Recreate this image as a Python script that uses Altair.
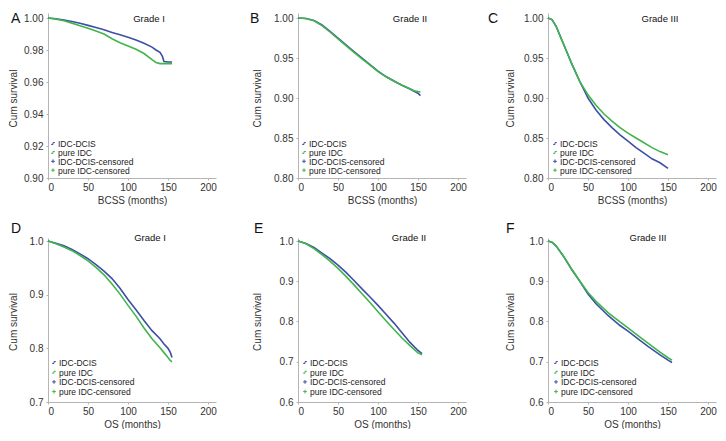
import altair as alt
import pandas as pd

FONT = "Liberation Sans"
BLUE = "#3d4fa6"
GREEN = "#3fb54b"
GROUPS = ["IDC-DCIS", "pure IDC"]
LEGEND_LABELS = ["IDC-DCIS", "pure IDC", "IDC-DCIS-censored", "pure IDC-censored"]
X_TICKS = [0, 50, 100, 150, 200]

# ---- Panel A: BCSS, Grade I ----
months_A = [0, 10, 20, 30, 40, 50, 60, 70, 80, 90, 100, 110, 120, 130, 135, 140, 143, 145, 150, 155]
blue_A = [1.0000, 0.9995, 0.9988, 0.9978, 0.9967, 0.9954, 0.9940, 0.9926, 0.9910, 0.9895,
          0.9880, 0.9862, 0.9842, 0.9818, 0.9800, 0.9785, 0.9760, 0.9728, 0.9725, 0.9725]
green_A = [1.0000, 0.9993, 0.9983, 0.9968, 0.9952, 0.9936, 0.9918, 0.9900, 0.9870, 0.9845,
           0.9825, 0.9805, 0.9778, 0.9740, 0.9722, 0.9715, 0.9715, 0.9715, 0.9715, 0.9715]

# ---- Panel B: BCSS, Grade II ----
months_B = [0, 10, 20, 30, 40, 50, 60, 70, 80, 90, 100, 110, 120, 130, 140, 145, 150, 153]
blue_B = [1.0000, 0.9994, 0.9968, 0.9912, 0.9833, 0.9750, 0.9665, 0.9580, 0.9498, 0.9418,
          0.9335, 0.9268, 0.9213, 0.9160, 0.9112, 0.9085, 0.9060, 0.9030]
green_B = [1.0000, 0.9993, 0.9965, 0.9905, 0.9825, 0.9740, 0.9655, 0.9570, 0.9490, 0.9410,
           0.9330, 0.9265, 0.9210, 0.9160, 0.9115, 0.9090, 0.9080, 0.9075]

# ---- Panel C: BCSS, Grade III ----
months_C = [0, 5, 10, 15, 20, 25, 30, 35, 40, 45, 50, 60, 70, 80, 90, 100, 110, 120, 130, 140, 150]
blue_C = [1.000, 0.998, 0.990, 0.978, 0.966, 0.954, 0.942, 0.931, 0.920, 0.910, 0.900,
          0.885, 0.873, 0.863, 0.854, 0.846, 0.838, 0.831, 0.824, 0.819, 0.812]
green_C = [1.000, 0.998, 0.990, 0.978, 0.966, 0.954, 0.942, 0.931, 0.920, 0.912, 0.904,
           0.891, 0.880, 0.871, 0.863, 0.856, 0.850, 0.844, 0.838, 0.833, 0.829]

# ---- Panel D: OS, Grade I ----
months_D = [0, 10, 20, 30, 40, 50, 60, 70, 80, 90, 100, 110, 120, 130, 140, 145, 150, 153, 155]
blue_D = [1.000, 0.996, 0.991, 0.984, 0.976, 0.967, 0.956, 0.944, 0.930, 0.912,
          0.891, 0.872, 0.852, 0.833, 0.818, 0.808, 0.800, 0.792, 0.783]
green_D = [1.000, 0.995, 0.989, 0.982, 0.973, 0.963, 0.951, 0.937, 0.920, 0.901,
           0.880, 0.860, 0.838, 0.818, 0.801, 0.792, 0.783, 0.777, 0.775]

# ---- Panel E: OS, Grade II ----
months_E = [0, 10, 20, 30, 40, 50, 60, 70, 80, 90, 100, 110, 120, 130, 140, 150, 155]
blue_E = [1.000, 0.994, 0.984, 0.970, 0.956, 0.940, 0.922, 0.902, 0.881, 0.861,
          0.840, 0.818, 0.796, 0.772, 0.748, 0.728, 0.720]
green_E = [1.000, 0.993, 0.981, 0.966, 0.950, 0.932, 0.912, 0.891, 0.869, 0.847,
           0.824, 0.802, 0.780, 0.759, 0.740, 0.722, 0.717]

# ---- Panel F: OS, Grade III ----
months_F = [0, 5, 10, 20, 30, 40, 50, 60, 75, 90, 100, 115, 125, 140, 150, 155]
blue_F = [1.000, 0.997, 0.988, 0.960, 0.928, 0.899, 0.868, 0.844, 0.815, 0.790,
          0.776, 0.753, 0.738, 0.717, 0.704, 0.698]
green_F = [1.000, 0.997, 0.988, 0.961, 0.929, 0.900, 0.872, 0.850, 0.822, 0.799,
           0.784, 0.761, 0.746, 0.724, 0.710, 0.704]

W = 168
PANELS = [
    dict(letter="A", grade="Grade I", xt="BCSS (months)", m=months_A, b=blue_A, g=green_A,
         ylo=0.90, ticks=[0.90, 0.92, 0.94, 0.96, 0.98, 1.00], fmt=".2f", row=0,
         lx=-37, gx=101, tx=-30, legx=5),
    dict(letter="B", grade="Grade II", xt="BCSS (months)", m=months_B, b=blue_B, g=green_B,
         ylo=0.80, ticks=[0.80, 0.85, 0.90, 0.95, 1.00], fmt=".2f", row=0,
         lx=-48, gx=112, tx=-36, legx=6),
    dict(letter="C", grade="Grade III", xt="BCSS (months)", m=months_C, b=blue_C, g=green_C,
         ylo=0.80, ticks=[0.80, 0.85, 0.90, 0.95, 1.00], fmt=".2f", row=0,
         lx=-60, gx=112, tx=-33, legx=7),
    dict(letter="D", grade="Grade I", xt="OS (months)", m=months_D, b=blue_D, g=green_D,
         ylo=0.70, ticks=[0.7, 0.8, 0.9, 1.0], fmt=".1f", row=1,
         lx=-37, gx=102, tx=-30, legx=6),
    dict(letter="E", grade="Grade II", xt="OS (months)", m=months_E, b=blue_E, g=green_E,
         ylo=0.60, ticks=[0.6, 0.7, 0.8, 0.9, 1.0], fmt=".1f", row=1,
         lx=-44, gx=111, tx=-36, legx=7),
    dict(letter="F", grade="Grade III", xt="OS (months)", m=months_F, b=blue_F, g=green_F,
         ylo=0.60, ticks=[0.6, 0.7, 0.8, 0.9, 1.0], fmt=".1f", row=1,
         lx=-42, gx=100, tx=-33, legx=8),
]

# letter_y / grade_y are the TOP of the text boxes, relative to the plot top
ROW_STYLE = {
    0: dict(H=165, ext=5, letter_y=-1, grade_y=1, leg_y0=131, leg_dy=8.9),
    1: dict(H=164, ext=3, letter_y=-16, grade_y=-5, leg_y0=125, leg_dy=9.7),
}

STEP = "M-1,0.5L0,0.5L0,-0.5L1,-0.5"
PLUS = "M-1,0L1,0M0,-1L0,1"


def one_text(txt, x, y, size, align="left", color="#111", baseline="alphabetic"):
    return alt.Chart(pd.DataFrame({"t": [txt]})).mark_text(
        align=align, baseline=baseline, fontSize=size, font=FONT, color=color
    ).encode(x=alt.value(x), y=alt.value(y), text="t:N")


def make_panel(p):
    rs = ROW_STYLE[p["row"]]
    H, ext = rs["H"], rs["ext"]
    yhi = 1 + (1 - p["ylo"]) * ext / (H - ext)
    n = len(p["m"])
    df = pd.DataFrame({
        "month": p["m"] + p["m"],
        "surv": p["b"] + p["g"],
        "group": [GROUPS[0]] * n + [GROUPS[1]] * n,
        "ord": [0] * n + [1] * n,
    })
    lines = alt.Chart(df).mark_line(strokeWidth=1.6).encode(
        x=alt.X("month:Q",
                scale=alt.Scale(domain=[0, 210], nice=False, zero=False),
                axis=alt.Axis(values=X_TICKS, title=p["xt"], labelPadding=2, titlePadding=3)),
        y=alt.Y("surv:Q",
                scale=alt.Scale(domain=[p["ylo"], yhi], nice=False, zero=False),
                axis=alt.Axis(values=p["ticks"], format=p["fmt"], title="Cum survival",
                              titleX=p["tx"], titleY=ext + (H - ext) / 2, titleAngle=270,
                              titleAlign="center", titleBaseline="bottom", labelPadding=3)),
        color=alt.Color("group:N", scale=alt.Scale(domain=GROUPS, range=[BLUE, GREEN]), legend=None),
        detail="ord:N",
    )
    layers = [lines,
              one_text(p["letter"], p["lx"], rs["letter_y"], 14, baseline="top"),
              one_text(p["grade"], p["gx"], rs["grade_y"], 9.5, align="center", baseline="top")]
    cols = [BLUE, GREEN, BLUE, GREEN]
    shapes = [STEP, STEP, PLUS, PLUS]
    for i, lab in enumerate(LEGEND_LABELS):
        y = rs["leg_y0"] + i * rs["leg_dy"]
        sym = alt.Chart(pd.DataFrame({"t": [lab]})).mark_point(
            shape=shapes[i], filled=False, size=14, strokeWidth=1, color=cols[i], opacity=1
        ).encode(x=alt.value(p["legx"]), y=alt.value(y - 0.5))
        layers.append(sym)
        layers.append(one_text(lab, p["legx"] + 5, y + 3, 8.5, color="#222"))
    return alt.layer(*layers).properties(width=W, height=H)


charts = [make_panel(p) for p in PANELS]

chart = alt.concat(
    *charts, columns=3, bounds="flush",
    spacing=alt.RowColnumber(row=60, column=82),
).properties(
    padding={"top": 4, "left": 0, "right": 0, "bottom": 0}
).configure_axis(
    grid=False,
    domainColor="#b5b5b5",
    tickColor="#b5b5b5",
    tickSize=2,
    labelFont=FONT,
    labelFontSize=10,
    labelColor="#333",
    titleFont=FONT,
    titleFontSize=10,
    titleFontWeight="normal",
    titleColor="#333",
).configure_view(stroke=None)

chart.save("out.html", embed_options={"renderer": "svg", "actions": False})
